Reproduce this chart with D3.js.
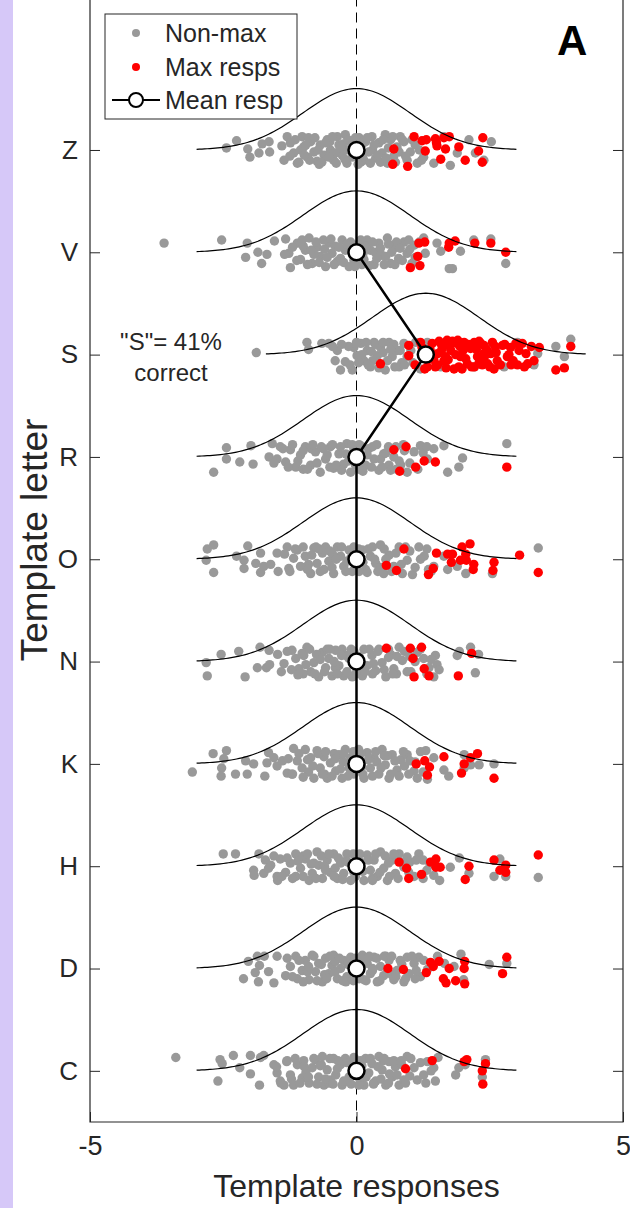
<!DOCTYPE html>
<html>
<head>
<meta charset="utf-8">
<script src="https://cdn.jsdelivr.net/npm/d3@7"></script>
<style>
  body { margin: 0; background: #fff; }
  text { font-family: "Liberation Sans", Arial, Helvetica, sans-serif; fill: #262626; }
</style>
</head>
<body>
<svg id="chart" width="630" height="1208"></svg>
<script>
// template letters, bottom to top (row value 1..10)
var letters = ["C", "D", "H", "K", "N", "O", "R", "S", "V", "Z"];
var meanResp = [0, 0, 0, 0, 0, 0, 0, 1.3, 0, 0];
var xTicks = [-5, 0, 5];

// points: [template response, vertical jitter in rows]
var nonMaxC = [[-3.39,0.13],[-2.6,-0.1],[-2.56,0.11],[-2.52,0.07],[-2.31,0.15],[-2.19,0.03],[-1.99,0.15],[-1.99,-0.03],[-1.82,-0.14],[-1.8,0.13],[-1.74,0.15],[-1.55,0.06],[-1.49,-0.02],[-1.43,-0.1],[-1.36,-0.14],[-1.31,0.09],[-1.24,-0.04],[-1.18,-0.14],[-1.11,0.06],[-1.02,-0.07],[-0.99,0.1],[-0.89,-0.12],[-0.83,0.03],[-0.77,0.11],[-0.71,-0.06],[-0.64,0.14],[-0.61,-0.14],[-0.55,0.01],[-0.49,-0.09],[-0.43,0.12],[-0.39,-0.04],[-0.3,0.06],[-0.27,-0.14],[-0.21,0.12],[-0.14,-0.06],[-0.08,0.06],[0.14,-0.14],[0.17,0.12],[0.23,-0.02],[0.29,0.07],[0.36,-0.1],[0.42,0.14],[0.48,0.01],[0.55,-0.14],[0.61,0.09],[0.67,-0.06],[0.73,0.04],[0.8,-0.14],[0.89,-0.09],[0.95,0.14],[1.08,0.03],[1.14,-0.09],[1.26,-0.04],[1.33,0.09],[1.45,0.03],[1.48,-0.1],[1.53,0.13],[1.86,-0.04],[1.92,0.03],[2.04,0.06],[2.42,0.11],[2.36,-0.06],
  [-0.95,-0.02],[-0.68,0.05],[-0.52,-0.12],[-0.35,0.1],[-0.18,-0.1],[-0.05,0.13],[0.06,-0.08],[0.1,0.05],[0.32,-0.12],[0.5,0.1],[0.62,-0.03],[0.85,0.06],[1.0,-0.05],
  [-1.5,0.04],[-1.42,-0.12],[-1.3,0.1],[-1.22,-0.08],[-1.15,0.12],[-1.06,-0.12],[-0.98,0.04],[-0.9,-0.06],[-0.8,0.12],[-0.74,-0.13],[-0.66,0.06],[-0.58,-0.08],[-0.5,0.12],[-0.44,-0.13],[-0.36,0.02],[-0.24,-0.1],[-0.18,0.08],[-0.1,-0.13],[-0.04,0.12],[0.04,-0.14],[0.08,0.1],[0.18,-0.06],[0.26,0.12],[0.32,-0.13],[0.4,0.04],[0.46,-0.08],[0.52,0.12],[0.6,-0.12],[0.7,0.1],[0.76,-0.04],[0.84,0.1],[0.92,-0.12],[1.02,0.12],[1.2,0.08],[1.3,-0.12],[1.4,0.0]];
var maxC = [[0.92,0.02],[1.42,0.1],[2.02,0.09],[2.07,0.11],[2.42,0.07],[2.36,0],[2.37,-0.13]];

var nonMaxD = [[-2.12,-0.1],[-2.03,0.07],[-1.9,-0.04],[-1.86,0.12],[-1.84,-0.13],[-1.82,0.03],[-1.65,-0.03],[-1.73,0.12],[-1.55,-0.14],[-1.49,0.12],[-1.33,-0.07],[-1.24,0.02],[-1.14,0.12],[-1.11,-0.1],[-1.02,-0.02],[-0.96,0.08],[-0.89,-0.11],[-0.83,0.13],[-0.77,-0.03],[-0.71,0.05],[-0.64,-0.13],[-0.58,0.1],[-0.52,-0.05],[-0.46,0.03],[-0.43,0.13],[-0.36,-0.1],[-0.3,0],[-0.24,0.08],[-0.18,-0.08],[-0.11,0.11],[0.11,0.13],[0.14,-0.11],[0.2,0.05],[0.26,-0.05],[0.33,0.11],[0.39,-0.13],[0.45,0.02],[0.51,-0.07],[0.61,0.08],[0.7,-0.11],[0.76,-0.02],[0.89,-0.13],[0.95,0.11],[0.98,-0.05],[1.08,0.05],[1.17,0.11],[1.2,-0.08],[1.33,-0.01],[1.52,0.12],[1.65,0.05],[1.83,0.02],[1.96,0.14],[2.01,-0.11],[2.49,0.04],[2.82,0.05],
  [-0.92,-0.03],[-0.6,-0.06],[-0.4,0.07],[-0.2,-0.13],[-0.06,0.02],[0.05,-0.1],[0.3,0.0],[0.55,0.12],[0.66,-0.06],[0.85,0.04],[1.1,-0.1],
  [-1.3,0.1],[-1.2,-0.08],[-1.08,0.08],[-1.0,-0.13],[-0.9,0.02],[-0.8,0.12],[-0.74,-0.12],[-0.66,0.04],[-0.56,-0.1],[-0.5,0.12],[-0.4,-0.03],[-0.32,0.1],[-0.26,-0.12],[-0.16,0.04],[-0.06,-0.12],[-0.02,0.1],[0.04,-0.02],[0.1,0.1],[0.18,-0.12],[0.24,0.12],[0.3,-0.02],[0.38,0.1],[0.44,-0.12],[0.52,0.12],[0.58,-0.03],[0.66,0.12],[0.74,-0.08],[0.82,0.08],[0.92,-0.1],[1.04,0.12],[1.12,-0.02],[1.26,0.08]];
var maxD = [[0.59,0],[0.88,-0.01],[1.31,-0.04],[1.39,0.06],[1.44,0.02],[1.55,0.07],[1.74,0],[1.63,-0.1],[1.68,-0.14],[1.86,-0.12],[2.03,0.07],[2.02,0],[2.03,-0.15],[2.74,-0.05],[2.82,0.11]];

var nonMaxH = [[-2.5,0.12],[-2.27,0.12],[-1.83,0.12],[-1.93,-0.04],[-1.92,-0.09],[-1.74,-0.07],[-1.71,0.06],[-1.61,0.01],[-1.49,-0.1],[-1.48,-0.14],[-1.43,0.07],[-1.33,-0.06],[-1.24,0.03],[-1.14,0.12],[-1.14,-0.1],[-1.05,-0.02],[-0.96,0.07],[-0.89,-0.14],[-0.83,-0.07],[-0.74,0.14],[-0.71,0.01],[-0.64,-0.12],[-0.55,0.06],[-0.49,-0.06],[-0.43,0.12],[-0.36,-0.12],[-0.3,0.03],[-0.24,-0.07],[-0.18,0.12],[-0.11,-0.14],[0.14,-0.14],[0.2,0.11],[0.26,-0.04],[0.33,0.06],[0.39,-0.1],[0.45,0.14],[0.51,-0.02],[0.58,-0.14],[0.67,0.06],[0.73,-0.07],[0.8,0.12],[0.89,-0.01],[0.95,0.09],[1.08,-0.1],[1.17,0.12],[1.32,-0.04],[1.45,-0.09],[1.56,-0.14],[1.76,-0.01],[1.93,0.08],[2.11,-0.07],[2.58,-0.1],[2.69,0.07],[2.8,-0.1],[3.41,-0.11],
  [-1.0,0.1],[-0.8,0.03],[-0.6,0.0],[-0.4,-0.02],[-0.2,0.05],[-0.05,-0.06],[0.08,0.04],[0.3,-0.12],[0.6,0.03],[1.0,0.04],[1.25,0.06],
  [-1.65,-0.02],[-1.55,0.1],[-1.4,-0.1],[-1.3,0.08],[-1.2,-0.12],[-1.1,0.05],[-1.0,-0.1],[-0.92,0.12],[-0.85,0.02],[-0.76,-0.12],[-0.66,0.1],[-0.58,-0.04],[-0.52,0.12],[-0.42,-0.1],[-0.34,0.08],[-0.26,-0.13],[-0.16,0.04],[-0.06,0.12],[-0.02,-0.1],[0.06,0.12],[0.12,-0.05],[0.22,0.06],[0.3,-0.14],[0.36,0.12],[0.44,-0.06],[0.54,0.1],[0.62,-0.1],[0.7,0.12],[0.78,-0.12],[0.86,0.04],[0.98,-0.06],[1.12,0.06],[1.25,-0.12],[1.38,0.02]];
var maxH = [[0.8,0.04],[0.94,-0.02],[0.98,-0.12],[1.22,-0.08],[1.39,0.04],[1.49,0.07],[1.49,-0.01],[1.57,-0.01],[2.11,0],[2.04,-0.13],[2.58,0.06],[2.8,0.01],[2.69,-0.04],[2.8,-0.06],[3.41,0.11]];

var nonMaxK = [[-3.08,-0.08],[-2.69,0.1],[-2.44,0.13],[-2.53,-0.04],[-2.54,-0.12],[-2.49,0.05],[-2.27,-0.1],[-2.08,0.03],[-2.05,-0.1],[-1.93,0],[-1.72,-0.12],[-1.68,0.01],[-1.65,0.11],[-1.55,0.06],[-1.49,-0.02],[-1.39,0.03],[-1.3,-0.09],[-1.21,-0.1],[-1.18,0.15],[-1.11,0.03],[-1.02,-0.04],[-0.96,0.14],[-0.86,0.06],[-0.8,-0.14],[-0.74,0.13],[-0.68,-0.04],[-0.61,0.07],[-0.55,-0.14],[-0.49,0.01],[-0.39,-0.07],[-0.33,0.09],[-0.27,-0.14],[-0.21,0.14],[-0.14,-0.04],[-0.11,0.06],[0.14,-0.14],[0.2,0.11],[0.26,-0.04],[0.33,0.06],[0.42,-0.1],[0.48,0.14],[0.54,-0.01],[0.61,-0.14],[0.67,0.09],[0.76,-0.06],[0.83,0.04],[0.95,0.09],[1.08,-0.07],[1.14,-0.14],[1.3,0.13],[1.33,-0.15],[1.45,0.06],[1.64,-0.06],[1.73,-0.12],[2.02,0.09],[2.02,-0.04],[2.14,-0.01],[2.3,-0.01],[2.58,0],
  [-0.9,-0.08],[-0.6,-0.1],[-0.42,0.1],[-0.25,0.02],[-0.05,-0.1],[0.08,0.1],[0.1,-0.03],[0.38,0.02],[0.58,0.08],[0.9,-0.02],[1.0,0.03],
  [-1.28,0.05],[-1.2,-0.1],[-1.08,0.1],[-1.0,-0.13],[-0.92,0.04],[-0.82,-0.02],[-0.72,0.1],[-0.64,-0.1],[-0.58,0.12],[-0.46,-0.12],[-0.4,0.05],[-0.3,-0.05],[-0.24,0.1],[-0.16,-0.12],[-0.06,0.12],[-0.02,-0.03],[0.04,0.14],[0.12,-0.1],[0.22,0.04],[0.3,-0.12],[0.36,0.12],[0.46,-0.04],[0.52,0.08],[0.64,-0.1],[0.72,0.03],[0.8,-0.12],[0.88,0.12],[0.98,-0.1],[1.1,0.02],[1.2,0.12],[1.25,-0.08]];
var maxK = [[1.12,0],[1.28,0.03],[1.37,-0.03],[1.33,-0.11],[1.64,0.07],[2.02,0],[2.14,0.06],[2.27,0.1],[1.97,-0.09],[2.58,-0.14]];

var nonMaxN = [[-2.82,-0.01],[-2.8,-0.14],[-2.54,0.07],[-2.21,0.1],[-2.09,-0.15],[-1.86,-0.06],[-1.81,0.14],[-1.69,-0.06],[-1.63,-0.03],[-1.64,0.11],[-1.48,0.07],[-1.41,-0.1],[-1.36,-0.02],[-1.21,0.11],[-1.14,0.03],[-1.08,-0.07],[-0.99,0.06],[-0.93,0.14],[-0.86,-0.1],[-0.8,-0.01],[-0.71,-0.15],[-0.64,0.09],[-0.58,-0.06],[-0.52,0.03],[-0.46,-0.14],[-0.39,0.11],[-0.33,-0.04],[-0.27,0.12],[-0.24,-0.14],[-0.14,0.03],[-0.08,-0.15],[0.11,-0.14],[0.14,0.12],[0.2,-0.04],[0.29,0.06],[0.36,-0.09],[0.42,0.12],[0.48,-0.01],[0.55,-0.15],[0.64,0.07],[0.7,-0.07],[0.8,0.14],[0.86,0.01],[0.95,-0.1],[1.14,0.09],[1.26,0.03],[1.36,-0.06],[1.45,-0.15],[1.48,0.06],[1.51,-0.03],[1.89,0.06],[1.93,0.1],[2.14,0.14],[2.29,0.07],[2.23,-0.11],
  [-1.0,-0.12],[-0.75,0.07],[-0.55,0.12],[-0.4,-0.06],[-0.2,0.06],[-0.05,0.1],[0.06,-0.06],[0.3,-0.12],[0.6,0.04],[0.75,-0.12],[1.0,0.05],
  [-1.3,0.1],[-1.22,-0.08],[-1.1,-0.13],[-1.02,0.08],[-0.95,-0.03],[-0.88,0.12],[-0.78,-0.12],[-0.68,0.02],[-0.6,-0.1],[-0.5,0.12],[-0.42,0.0],[-0.36,-0.12],[-0.28,0.06],[-0.18,-0.1],[-0.1,0.12],[-0.02,-0.12],[0.05,0.05],[0.16,-0.1],[0.24,0.12],[0.32,-0.02],[0.4,0.1],[0.52,-0.08],[0.6,0.12],[0.68,-0.12],[0.76,0.05],[0.9,0.1],[1.02,-0.1],[1.1,0.0],[1.2,0.12],[1.32,-0.12],[1.4,0.02],[1.55,-0.08]];
var maxN = [[0.56,0.13],[1.01,0.13],[1.22,0.14],[1.06,0.03],[1.27,-0.07],[1.08,-0.15],[1.36,-0.14],[1.91,-0.14],[2.16,0.08]];

var nonMaxO = [[-2.8,0.1],[-2.68,0.14],[-2.82,-0.01],[-2.68,-0.13],[-2.25,0.03],[-2.11,-0.01],[-2.11,-0.09],[-2.04,0.13],[-1.89,-0.04],[-1.8,0.06],[-1.8,-0.13],[-1.74,-0.07],[-1.61,-0.05],[-1.49,0.06],[-1.47,-0.12],[-1.3,0.12],[-1.27,-0.09],[-1.18,0.01],[-1.11,0.09],[-1.05,-0.07],[-0.96,0.03],[-0.86,-0.14],[-0.8,0.11],[-0.74,-0.04],[-0.64,0.06],[-0.61,-0.1],[-0.52,-0.02],[-0.43,-0.14],[-0.36,0.12],[-0.3,0.03],[-0.24,-0.07],[-0.14,0.09],[-0.08,-0.12],[0.11,0.09],[0.17,-0.1],[0.26,0.03],[0.36,-0.04],[0.45,0.14],[0.51,-0.14],[0.61,0.04],[0.7,-0.07],[0.8,0.12],[0.86,-0.14],[0.95,-0.01],[1.05,-0.15],[1.17,0.12],[1.27,0.03],[1.45,-0.07],[1.64,0.03],[1.71,-0.1],[1.89,-0.07],[2.05,-0.14],[2.55,-0.14],[3.41,0.11],
  [-0.9,-0.05],[-0.7,0.1],[-0.45,0.05],[-0.18,-0.02],[-0.05,0.12],[0.05,-0.12],[0.22,0.1],[0.4,-0.12],[0.55,0.0],[1.0,0.08],[1.35,-0.1],
  [-1.35,0.05],[-1.25,-0.12],[-1.15,0.1],[-1.0,0.12],[-0.92,-0.1],[-0.84,0.04],[-0.76,0.12],[-0.68,-0.12],[-0.58,0.12],[-0.5,0.08],[-0.46,-0.08],[-0.38,0.0],[-0.28,0.12],[-0.2,-0.12],[-0.1,0.02],[-0.02,-0.06],[0.04,0.1],[0.12,-0.03],[0.2,-0.13],[0.3,0.12],[0.34,0.0],[0.46,-0.08],[0.52,0.1],[0.66,-0.12],[0.74,0.06],[0.84,-0.05],[0.92,0.12],[1.1,-0.08],[1.2,0.0],[1.32,0.1],[1.4,-0.12]];
var maxO = [[0.89,0.1],[0.56,-0.06],[0.75,-0.11],[1.5,0.06],[1.44,-0.09],[1.35,-0.15],[1.71,0.05],[1.8,0.05],[1.78,-0.03],[1.98,0.12],[2.13,0.15],[2.05,0.05],[1.95,-0.01],[2.06,-0.01],[2.2,-0.05],[2.19,-0.1],[2.58,-0.03],[2.56,-0.11],[3.06,0.04],[3.41,-0.13]];

var nonMaxR = [[-2.68,-0.15],[-2.44,0.09],[-2.44,-0.02],[-2.19,-0.05],[-1.98,0.11],[-1.94,-0.07],[-1.64,0],[-1.58,0.13],[-1.49,-0.02],[-1.43,0.1],[-1.33,-0.05],[-1.24,0.07],[-1.14,-0.1],[-1.05,0.02],[-0.96,0.1],[-0.86,-0.08],[-0.77,0.05],[-0.68,-0.15],[-0.58,-0.02],[-0.49,0.1],[-0.43,-0.11],[-0.33,0.03],[-0.24,-0.07],[-0.18,0.13],[-0.11,-0.15],[-0.05,0.08],[0.17,-0.08],[0.23,0.08],[0.33,-0.02],[0.42,-0.13],[0.51,0.03],[0.61,-0.08],[0.7,0],[0.83,-0.08],[0.95,-0.15],[1.08,0.05],[1.2,0.11],[1.33,-0.02],[1.45,0.08],[1.64,0.11],[1.71,-0.15],[1.92,-0.1],[1.99,-0.01],[2.82,0.13],
  [-1.0,-0.12],[-0.85,0.08],[-0.62,0.08],[-0.5,-0.1],[-0.3,0.1],[-0.15,-0.04],[0.05,-0.12],[0.1,0.1],[0.3,0.1],[0.45,-0.02],[0.6,0.1],[0.75,-0.12],[0.9,0.06],
  [-1.38,0.08],[-1.28,-0.1],[-1.2,0.12],[-1.1,-0.04],[-1.0,0.06],[-0.92,-0.12],[-0.82,0.12],[-0.74,-0.06],[-0.66,0.1],[-0.55,0.02],[-0.45,0.12],[-0.38,-0.08],[-0.28,-0.13],[-0.2,0.03],[-0.08,0.12],[-0.02,-0.08],[0.05,0.12],[0.12,-0.14],[0.2,0.02],[0.28,-0.1],[0.38,0.12],[0.48,-0.1],[0.55,0.04],[0.64,-0.13],[0.74,0.1],[0.8,-0.04],[0.88,0.12],[1.0,-0.06],[1.15,-0.12],[1.25,0.04],[1.32,0.1],[-1.55,-0.06]];
var maxR = [[0.7,0.07],[0.93,0.1],[1.27,-0.04],[1.11,-0.1],[0.81,-0.14],[1.48,-0.05],[2.82,-0.1]];

var nonMaxS = [[-1.88,0.02],[-0.93,0.12],[-0.9,0.05],[-0.65,0.11],[-0.52,0.11],[-0.36,0.04],[-0.3,-0.15],[-0.21,-0.07],[-0.08,-0.15],[-0.05,0.07],[0.01,-0.01],[0.08,0.11],[0.14,-0.06],[0.2,0.04],[0.26,-0.12],[0.33,0.12],[0.39,-0.01],[0.45,0.07],[0.54,-0.15],[0.61,0.12],[0.67,-0.02],[0.76,0.04],[0.8,-0.12],[0.89,0.11],[0.95,-0.02],[1.02,0.04],[1.11,0.12],[1.2,-0.14],[1.33,0.12],[1.58,-0.12],[2.21,-0.12],[2.55,0.11],[2.77,-0.12],[3.02,0.12],[3.33,-0.1],[3.4,0.01],[3.74,0.08],[3.9,-0.02],[4.02,0.15],
  [-0.15,0.08],[0.1,0.0],[0.3,-0.06],[0.5,0.02],[0.7,0.1],[0.85,-0.08],
  [-0.4,-0.06],[-0.28,0.1],[-0.12,-0.1],[0.0,0.12],[0.04,-0.08],[0.18,0.12],[0.22,-0.1],[0.28,0.03],[0.36,0.1],[0.42,-0.13],[0.5,0.12],[0.58,-0.06],[0.64,0.05],[0.72,-0.12],[0.82,0.04],[0.9,-0.1],[1.06,-0.08],[-0.45,0.08]];
var maxS = [[0.98,0.09],[0.98,-0.01],[0.45,-0.09],[1.33,-0.12],[1.42,0.11],[1.52,0.01],[1.58,0.11],[1.64,-0.06],[1.7,0.14],[1.77,0.04],[1.83,-0.14],[1.89,0.11],[1.95,-0.02],[2.02,0.12],[2.08,-0.09],[2.14,0.06],[2.21,0.12],[2.27,-0.02],[2.33,0.11],[2.39,0.01],[2.46,-0.09],[2.52,0.01],[2.58,-0.14],[2.64,-0.06],[2.74,0.09],[2.83,-0.02],[2.89,0.07],[2.99,0.11],[3.02,-0.1],[3.11,0.11],[3.18,0.01],[3.21,-0.09],[3.33,-0.06],[3.43,0.07],[3.74,-0.15],[3.9,-0.13],[4.02,0.08],[1.52,-0.1],[1.67,-0.02],[1.23,0.07],[2.21,-0.12],[2.39,0.09],[1.92,-0.12],
  [1.45,-0.05],[1.75,0.08],[2.0,0.04],[2.3,-0.08],[2.6,0.08],[2.9,-0.1],[1.6,0.05],
  [1.1,-0.1],[1.2,0.12],[1.28,-0.14],[1.38,0.05],[1.48,-0.12],[1.55,0.13],[1.62,0.08],[1.68,-0.13],[1.72,-0.05],[1.8,0.13],[1.86,0.0],[1.94,0.08],[1.98,-0.14],[2.05,-0.04],[2.1,0.1],[2.16,-0.12],[2.25,0.05],[2.3,0.13],[2.36,-0.1],[2.44,0.05],[2.5,-0.12],[2.55,0.12],[2.62,0.02],[2.7,-0.1],[2.78,0.1],[2.86,0.0],[2.94,-0.06],[3.05,0.04],[3.15,-0.12],[3.28,0.08],[1.4,-0.04],[1.9,0.14],[2.4,-0.02]];

var nonMaxV = [[-3.61,0.09],[-2.53,0.12],[-2.05,0.09],[-2.08,-0.05],[-1.85,0],[-1.78,-0.11],[-1.68,-0.02],[-1.54,0.11],[-1.33,0.13],[-1.27,-0.01],[-1.24,-0.15],[-1.11,0.09],[-1.05,-0.07],[-0.96,0.02],[-0.89,0.14],[-0.83,-0.11],[-0.74,0.05],[-0.68,-0.04],[-0.58,-0.14],[-0.52,0.09],[-0.46,-0.01],[-0.36,-0.09],[-0.27,0.12],[-0.21,0.02],[-0.14,-0.14],[-0.11,0.1],[0.14,-0.07],[0.2,0.12],[0.26,0.02],[0.33,-0.12],[0.42,0.09],[0.48,-0.03],[0.58,0.14],[0.64,-0.11],[0.7,0.04],[0.79,-0.06],[0.89,0.1],[0.95,-0.01],[1.04,-0.11],[1.08,0.07],[1.26,0.14],[1.29,-0.01],[1.51,0.09],[1.58,0.01],[1.74,-0.16],[1.8,-0.16],[1.95,0.01],[2.2,0.12],[2.52,0.13],[2.8,-0.11],
  [-1.0,0.06],[-0.8,-0.02],[-0.62,0.12],[-0.4,0.06],[-0.3,-0.06],[-0.05,-0.08],[0.08,0.12],[0.1,-0.12],[0.35,0.0],[0.55,-0.04],[0.75,0.1],[1.0,0.03],
  [-1.2,0.05],[-1.12,-0.08],[-1.02,0.12],[-0.92,-0.12],[-0.85,0.02],[-0.76,0.1],[-0.7,-0.1],[-0.6,0.03],[-0.55,-0.05],[-0.48,0.13],[-0.42,-0.12],[-0.33,0.05],[-0.24,-0.1],[-0.18,0.08],[-0.08,0.02],[-0.03,-0.14],[0.04,0.08],[0.12,-0.02],[0.18,0.06],[0.24,-0.13],[0.3,0.1],[0.38,-0.06],[0.45,0.04],[0.52,-0.12],[0.6,0.08],[0.66,0.0],[0.72,-0.12],[0.82,0.04],[0.86,-0.08],[0.98,0.12],[1.1,-0.05],[1.18,0.1],[-1.35,-0.02]];
var maxV = [[1.17,0.09],[1.28,0.1],[1.15,-0.04],[1.01,-0.15],[1.19,-0.13],[1.74,0.09],[1.85,0.11],[1.73,0.05],[2.22,0.09],[2.52,0.09],[2.8,0]];

var nonMaxZ = [[-2.44,0.02],[-2.25,0.09],[-2.04,0.01],[-2.0,-0.07],[-1.83,-0.03],[-1.77,0.06],[-1.64,0.08],[-1.63,-0.02],[-1.36,-0.1],[-1.3,0.13],[-1.24,0.07],[-1.18,-0.03],[-1.11,-0.13],[-1.02,0.13],[-0.99,0.03],[-0.92,-0.07],[-0.86,0.08],[-0.8,-0.02],[-0.74,-0.11],[-0.68,0.05],[-0.61,-0.05],[-0.55,0.1],[-0.49,0],[-0.43,-0.1],[-0.36,0.13],[-0.33,0.05],[-0.27,-0.05],[-0.21,0.15],[-0.18,-0.13],[-0.11,0.08],[-0.08,-0.07],[0.14,-0.1],[0.17,0.08],[0.23,-0.02],[0.29,0.13],[0.36,-0.08],[0.42,0.07],[0.48,-0.03],[0.54,0.15],[0.58,-0.13],[0.64,0.1],[0.76,0.03],[0.89,0.08],[0.95,-0.1],[1.01,-0.02],[1.14,-0.13],[1.26,-0.07],[1.45,-0.13],[1.64,0.13],[1.76,-0.15],[1.89,-0.03],[2.11,0.1],[2.23,-0.03],[2.39,-0.1],[2.53,0.08],
  [-1.05,0.0],[-0.9,0.12],[-0.7,-0.14],[-0.5,0.08],[-0.4,-0.03],[-0.25,0.06],[-0.15,0.0],[0.05,0.12],[0.08,-0.12],[0.3,0.0],[0.45,-0.12],[0.6,0.02],[0.7,-0.06],[0.82,0.13],[1.1,0.05],
  [-1.25,-0.06],[-1.15,0.1],[-1.08,-0.12],[-0.95,0.05],[-0.88,-0.1],[-0.78,0.12],[-0.72,0.0],[-0.65,-0.12],[-0.58,0.07],[-0.52,-0.07],[-0.45,0.13],[-0.38,-0.13],[-0.3,0.02],[-0.22,-0.09],[-0.16,0.1],[-0.05,-0.03],[-0.02,0.12],[0.03,-0.14],[0.1,0.05],[0.2,0.12],[0.26,-0.13],[0.33,0.05],[0.4,-0.05],[0.5,0.1],[0.56,-0.08],[0.68,0.13],[0.73,-0.12],[0.8,-0.02],[0.86,0.1],[0.92,-0.06],[1.04,0.1],[1.18,0.0],[1.22,-0.1],[-1.4,0.04],[-0.98,-0.05],[0.12,-0.05]];
var maxZ = [[1.08,0.13],[1.23,0.09],[1.31,0.1],[1.48,0.11],[1.5,0.07],[1.64,0.12],[1.74,0.13],[0.7,0.01],[1.29,-0.01],[1.51,0.04],[1.67,0.01],[1.92,0.03],[2.29,-0.01],[2.37,0.12],[0.68,-0.14],[0.96,-0.16],[1.58,-0.09],[2.04,-0.1],[2.36,-0.12]];

var nonMaxRows = [nonMaxC, nonMaxD, nonMaxH, nonMaxK, nonMaxN, nonMaxO, nonMaxR, nonMaxS, nonMaxV, nonMaxZ];
var maxRows = [maxC, maxD, maxH, maxK, maxN, maxO, maxR, maxS, maxV, maxZ];

function drawTemplateChart() {
    var svg = d3.select("#chart");

    // lavender strip on the left edge
    svg.append("rect")
        .attr("x", 0).attr("y", 0)
        .attr("width", 13).attr("height", 1208)
        .style("fill", "#d6c8f8");

    var x = d3.scaleLinear().domain([-5, 5]).range([90, 623]);
    var y = d3.scaleLinear().domain([0.5, 11.5]).range([1122, -3.5]);

    var plot = svg.append("g");

    // dashed zero line
    plot.append("line")
        .attr("x1", x(0)).attr("x2", x(0))
        .attr("y1", y(11.5)).attr("y2", y(0.5))
        .style("stroke", "#000")
        .style("stroke-width", 1)
        .style("stroke-dasharray", "10,6");

    // scatter points
    let allGray = [], allRed = [];
    for (let i = 0; i < letters.length; i++) {
        nonMaxRows[i].forEach(p => allGray.push({ v: p[0], row: i + 1 + p[1] }));
        maxRows[i].forEach(p => allRed.push({ v: p[0], row: i + 1 + p[1] }));
    }

    plot.selectAll(".nonmax").data(allGray).enter().append("circle")
        .attr("class", "nonmax")
        .attr("cx", d => x(d.v)).attr("cy", d => y(d.row))
        .attr("r", 4.7)
        .style("fill", "#999999");

    plot.selectAll(".maxr").data(allRed).enter().append("circle")
        .attr("class", "maxr")
        .attr("cx", d => x(d.v)).attr("cy", d => y(d.row))
        .attr("r", 4.7)
        .style("fill", "#ff0000");

    // normal curves, sd 1, centred on each row's mean
    let curve = d3.line().x(d => x(d[0])).y(d => y(d[1]));
    for (let i = 0; i < letters.length; i++) {
        let mu = meanResp[i];
        let pts = d3.range(-3, 3.001, 0.05).map(t => [mu + t, i + 1 + 0.6 * Math.exp(-t * t / 2)]);
        plot.append("path")
            .attr("d", curve(pts))
            .style("fill", "none")
            .style("stroke", "#000")
            .style("stroke-width", 1.2);
    }

    // mean response line and markers
    let means = letters.map((l, i) => [meanResp[i], i + 1]);
    plot.append("path")
        .attr("d", curve(means))
        .style("fill", "none")
        .style("stroke", "#000")
        .style("stroke-width", 2.5);

    plot.selectAll(".meanpt").data(means).enter().append("circle")
        .attr("class", "meanpt")
        .attr("cx", d => x(d[0])).attr("cy", d => y(d[1]))
        .attr("r", 8)
        .style("fill", "#fff")
        .style("stroke", "#000")
        .style("stroke-width", 2.5);

    // axes box
    let xAxis = d3.axisBottom(x).tickValues(xTicks).tickSize(-10).tickPadding(14).tickFormat(d => String(d));
    let gx = svg.append("g").attr("transform", "translate(0," + y(0.5) + ")").call(xAxis);
    gx.select(".domain").remove();
    gx.selectAll("text").style("font-size", "27px").attr("dy", "0.71em");

    let yAxis = d3.axisLeft(y).tickValues(d3.range(1, 11)).tickSize(-10).tickPadding(12)
        .tickFormat(d => letters[d - 1]);
    let gy = svg.append("g").attr("transform", "translate(" + x(-5) + ",0)").call(yAxis);
    gy.select(".domain").remove();
    gy.selectAll("text").style("font-size", "26px");

    let gyr = svg.append("g").attr("transform", "translate(" + x(5) + ",0)")
        .call(d3.axisRight(y).tickValues(d3.range(1, 11)).tickSize(-10).tickFormat(""));
    gyr.select(".domain").remove();

    svg.selectAll(".tick line").style("stroke", "#262626");

    svg.append("path")
        .attr("d", "M" + x(-5) + "," + y(11.5) + "V" + y(0.5) + "H" + x(5) + "V" + y(11.5))
        .style("fill", "none")
        .style("stroke", "#262626")
        .style("stroke-width", 1.2);

    // axis titles
    svg.append("text")
        .attr("x", x(0)).attr("y", 1197)
        .attr("text-anchor", "middle")
        .style("font-size", "32px")
        .text("Template responses");

    svg.append("text")
        .attr("transform", "translate(47," + 540 + ") rotate(-90)")
        .attr("text-anchor", "middle")
        .style("font-size", "37px")
        .text("Template letter");

    // annotation and panel letter
    svg.append("text")
        .attr("x", 171).attr("y", 350)
        .attr("text-anchor", "middle")
        .style("font-size", "24px")
        .text("\"S\"= 41%");
    svg.append("text")
        .attr("x", 171).attr("y", 381)
        .attr("text-anchor", "middle")
        .style("font-size", "24px")
        .text("correct");

    svg.append("text")
        .attr("x", 557).attr("y", 55)
        .style("font-size", "42px")
        .style("font-weight", "bold")
        .style("fill", "#000")
        .text("A");

    // legend
    let lg = svg.append("g");
    lg.append("rect")
        .attr("x", 105).attr("y", 14).attr("width", 192).attr("height", 105)
        .style("fill", "#fff").style("stroke", "#262626").style("stroke-width", 1);
    lg.append("circle").attr("cx", 136).attr("cy", 33).attr("r", 4).style("fill", "#999999");
    lg.append("circle").attr("cx", 136).attr("cy", 67).attr("r", 4).style("fill", "#ff0000");
    lg.append("line").attr("x1", 112).attr("x2", 160).attr("y1", 100).attr("y2", 100)
        .style("stroke", "#000").style("stroke-width", 2);
    lg.append("circle").attr("cx", 136).attr("cy", 100).attr("r", 7)
        .style("fill", "#fff").style("stroke", "#000").style("stroke-width", 2);
    let legendNames = ["Non-max", "Max resps", "Mean resp"];
    lg.selectAll(".lgtext").data(legendNames).enter().append("text")
        .attr("x", 165)
        .attr("y", (d, i) => [33, 67, 100][i])
        .attr("dy", "0.35em")
        .style("font-size", "25px")
        .text(d => d);
}

drawTemplateChart();
</script>
</body>
</html>
